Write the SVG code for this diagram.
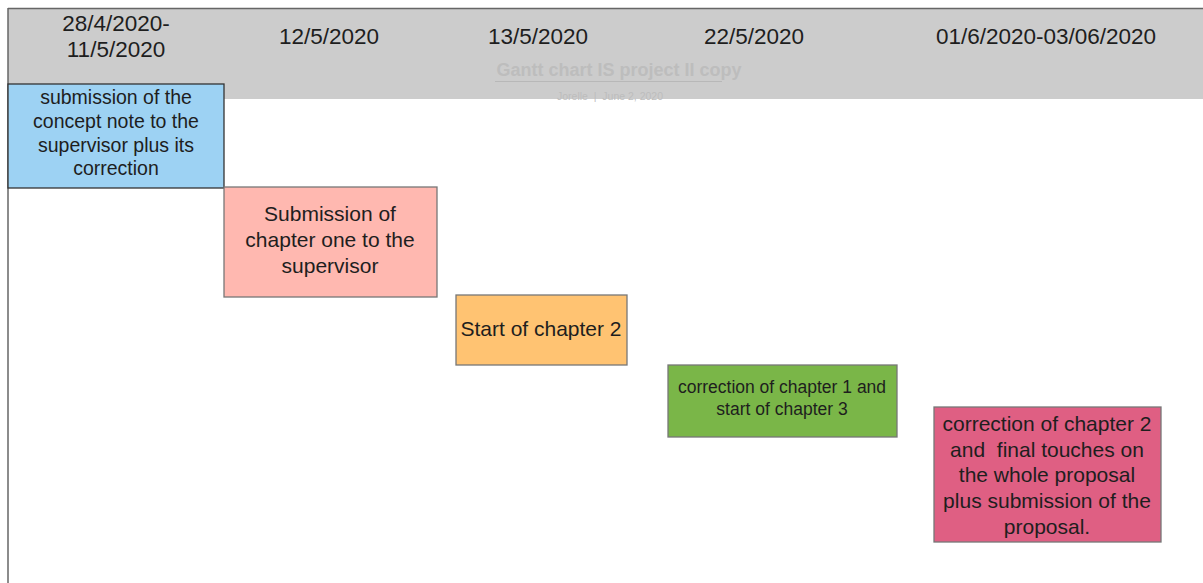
<svg xmlns="http://www.w3.org/2000/svg" width="1203" height="583" viewBox="0 0 1203 583">
<style>
text{font-family:"Liberation Sans",Arial,sans-serif;fill:#1e1e1e;text-anchor:middle;white-space:pre}
.h{font-size:22.5px}
.b1{font-size:19.5px}
.b{font-size:21px}
.box{stroke:#777;stroke-width:1.3}
</style>
<rect width="1203" height="583" fill="#fff"/>
<g id="header">
<rect x="8" y="9" width="1195" height="90" fill="#cccccc"/>
<line x1="8" y1="8.5" x2="1203" y2="8.5" stroke="#666" stroke-width="1.5"/>
<text class="h" x="116" y="31">28/4/2020-</text>
<text class="h" x="116" y="57">11/5/2020</text>
<text class="h" x="329" y="44">12/5/2020</text>
<text class="h" x="538" y="44">13/5/2020</text>
<text class="h" x="754" y="44">22/5/2020</text>
<text class="h" x="1046" y="44">01/6/2020-03/06/2020</text>
<text x="619" y="76" style="font-size:18px;font-weight:bold;fill:#bdbdbd">Gantt chart IS project II copy</text>
<line x1="495" y1="81.5" x2="722" y2="81.5" stroke="#b8b8b8" stroke-width="1"/>
<text x="610" y="100" style="font-size:10.5px;fill:#bdbdbd">Jorelle  |  June 2, 2020</text>
</g>
<line x1="8" y1="8" x2="8" y2="583" stroke="#666" stroke-width="1.5"/>
<g id="task1">
<rect x="8" y="84" width="216" height="104" fill="#9dd2f3" stroke="#333" stroke-width="1.3"/>
<text class="b1" x="116" y="104">submission of the</text>
<text class="b1" x="116" y="128">concept note to the</text>
<text class="b1" x="116" y="152">supervisor plus its</text>
<text class="b1" x="116" y="175">correction</text>
</g>
<g id="task2">
<rect class="box" x="224" y="187" width="213" height="110" fill="#ffb8b0"/>
<text class="b" x="330" y="221">Submission of</text>
<text class="b" x="330" y="247">chapter one to the</text>
<text class="b" x="330" y="273">supervisor</text>
</g>
<g id="task3">
<rect class="box" x="456" y="295" width="171" height="70" fill="#ffc372"/>
<text class="b" x="541" y="336">Start of chapter 2</text>
</g>
<g id="task4">
<rect class="box" x="668" y="365" width="229" height="72" fill="#7ab648"/>
<text x="782" y="393" style="font-size:17.5px">correction of chapter 1 and</text>
<text x="782" y="415" style="font-size:17.5px">start of chapter 3</text>
</g>
<g id="task5">
<rect class="box" x="934" y="407" width="227" height="135" fill="#df5f83"/>
<text class="b" x="1047" y="431">correction of chapter 2</text>
<text class="b" x="1047" y="457">and  final touches on</text>
<text class="b" x="1047" y="482">the whole proposal</text>
<text class="b" x="1047" y="508">plus submission of the</text>
<text class="b" x="1047" y="534">proposal.</text>
</g>
<g id="connectors"></g>
</svg>
